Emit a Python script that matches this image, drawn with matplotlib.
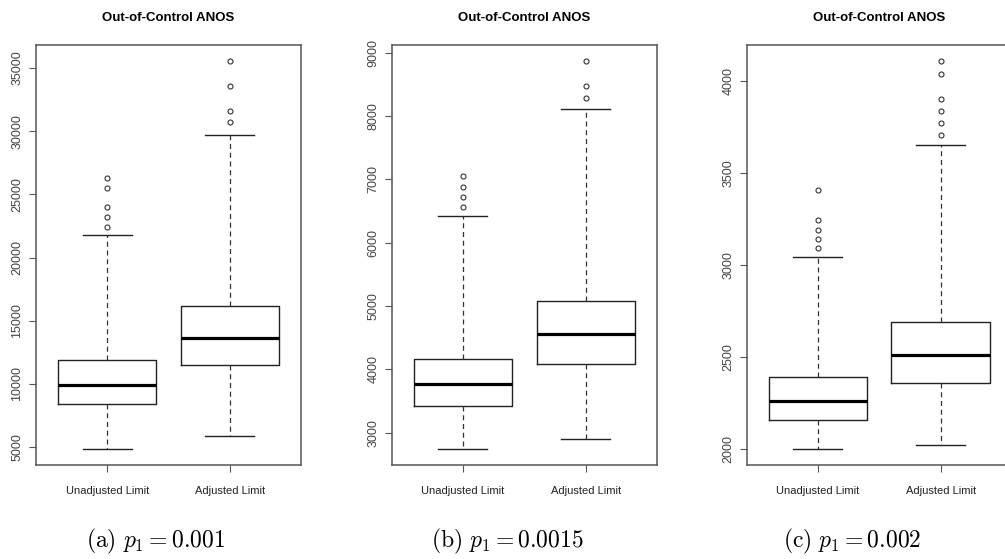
import matplotlib
matplotlib.use("Agg")
import matplotlib.pyplot as plt

# Box statistics (Unadjusted, Adjusted)
groups = ["Unadjusted Limit", "Adjusted Limit"]
captions = [r"$\mathrm{(a)}\ p_1 = 0.001$",
            r"$\mathrm{(b)}\ p_1 = 0.0015$",
            r"$\mathrm{(c)}\ p_1 = 0.002$"]

# panel (a)
a_q1 = [8390, 11515]
a_med = [9955, 13660]
a_q3 = [11860, 16200]
a_lo = [4820, 5850]
a_hi = [21790, 29730]
a_out = [[22430, 23190, 23960, 25470, 26290],
         [30690, 31590, 33550, 35580]]
a_ticks = [5000, 10000, 15000, 20000, 25000, 30000, 35000]

# panel (b)
b_q1 = [3420, 4077]
b_med = [3760, 4552]
b_q3 = [4166, 5085]
b_lo = [2734, 2898]
b_hi = [6412, 8103]
b_out = [[6565, 6718, 6882, 7046],
         [8287, 8477, 8873]]
b_ticks = [3000, 4000, 5000, 6000, 7000, 8000, 9000]

# panel (c)
c_q1 = [2160, 2361]
c_med = [2259, 2514]
c_q3 = [2390, 2692]
c_lo = [1998, 2024]
c_hi = [3044, 3652]
c_out = [[3091, 3140, 3191, 3244, 3408],
         [3710, 3772, 3838, 3903, 4042, 4113]]
c_ticks = [2000, 2500, 3000, 3500, 4000]

panels = [
    (a_q1, a_med, a_q3, a_lo, a_hi, a_out, a_ticks),
    (b_q1, b_med, b_q3, b_lo, b_hi, b_out, b_ticks),
    (c_q1, c_med, c_q3, c_lo, c_hi, c_out, c_ticks),
]

plt.rcParams["mathtext.fontset"] = "cm"
plt.rcParams["font.family"] = ["Liberation Sans", "DejaVu Sans"]

fig = plt.figure(figsize=(10.05, 5.59), dpi=100)

lefts = [0.0358, 0.3898, 0.7430]
cap_x = [0.155, 0.505, 0.848]
W, B, H = 0.2637, 0.1682, 0.7513

for i, (q1, med, q3, lo, hi, out, ticks) in enumerate(panels):
    ax = fig.add_axes([lefts[i], B, W, H])
    stats = []
    for k in range(2):
        stats.append(dict(q1=q1[k], med=med[k], q3=q3[k], whislo=lo[k],
                          whishi=hi[k], fliers=out[k], label=groups[k]))
    ax.bxp(stats, positions=[1, 2], widths=0.8, capwidths=0.4,
           boxprops=dict(color="#222222", lw=1.0),
           medianprops=dict(color="black", lw=2.3, solid_capstyle="butt"),
           whiskerprops=dict(color="#333333", lw=0.9, linestyle=(0, (4, 3))),
           capprops=dict(color="#222222", lw=1.0),
           flierprops=dict(marker="o", markersize=3.6, markerfacecolor="none",
                           markeredgecolor="#333333", markeredgewidth=0.8))
    allv = lo + hi + [v for o in out for v in o]
    span = max(allv) - min(allv)
    ax.set_ylim(min(allv) - 0.04 * span, max(allv) + 0.04 * span)
    ax.set_xlim(0.42, 2.58)
    ax.set_yticks(ticks)
    ax.set_yticklabels([str(t) for t in ticks], rotation=90, va="center",
                       fontsize=9, color="#444444")
    ax.set_xticks([1, 2])
    ax.set_xticklabels(groups, fontsize=8, color="#222222")
    ax.tick_params(axis="y", length=5, width=0.8, color="#555555", pad=4)
    ax.tick_params(axis="x", length=5, width=0.8, color="#555555", pad=10)
    for s in ax.spines.values():
        s.set_color("#555555")
        s.set_linewidth(1.1)
    ax.set_title("Out-of-Control ANOS", fontsize=9.5, fontweight="bold",
                 pad=17)
    fig.text(cap_x[i], 0.031, captions[i], ha="center", va="center",
             fontsize=17)

fig.savefig("out.png", dpi=100)
